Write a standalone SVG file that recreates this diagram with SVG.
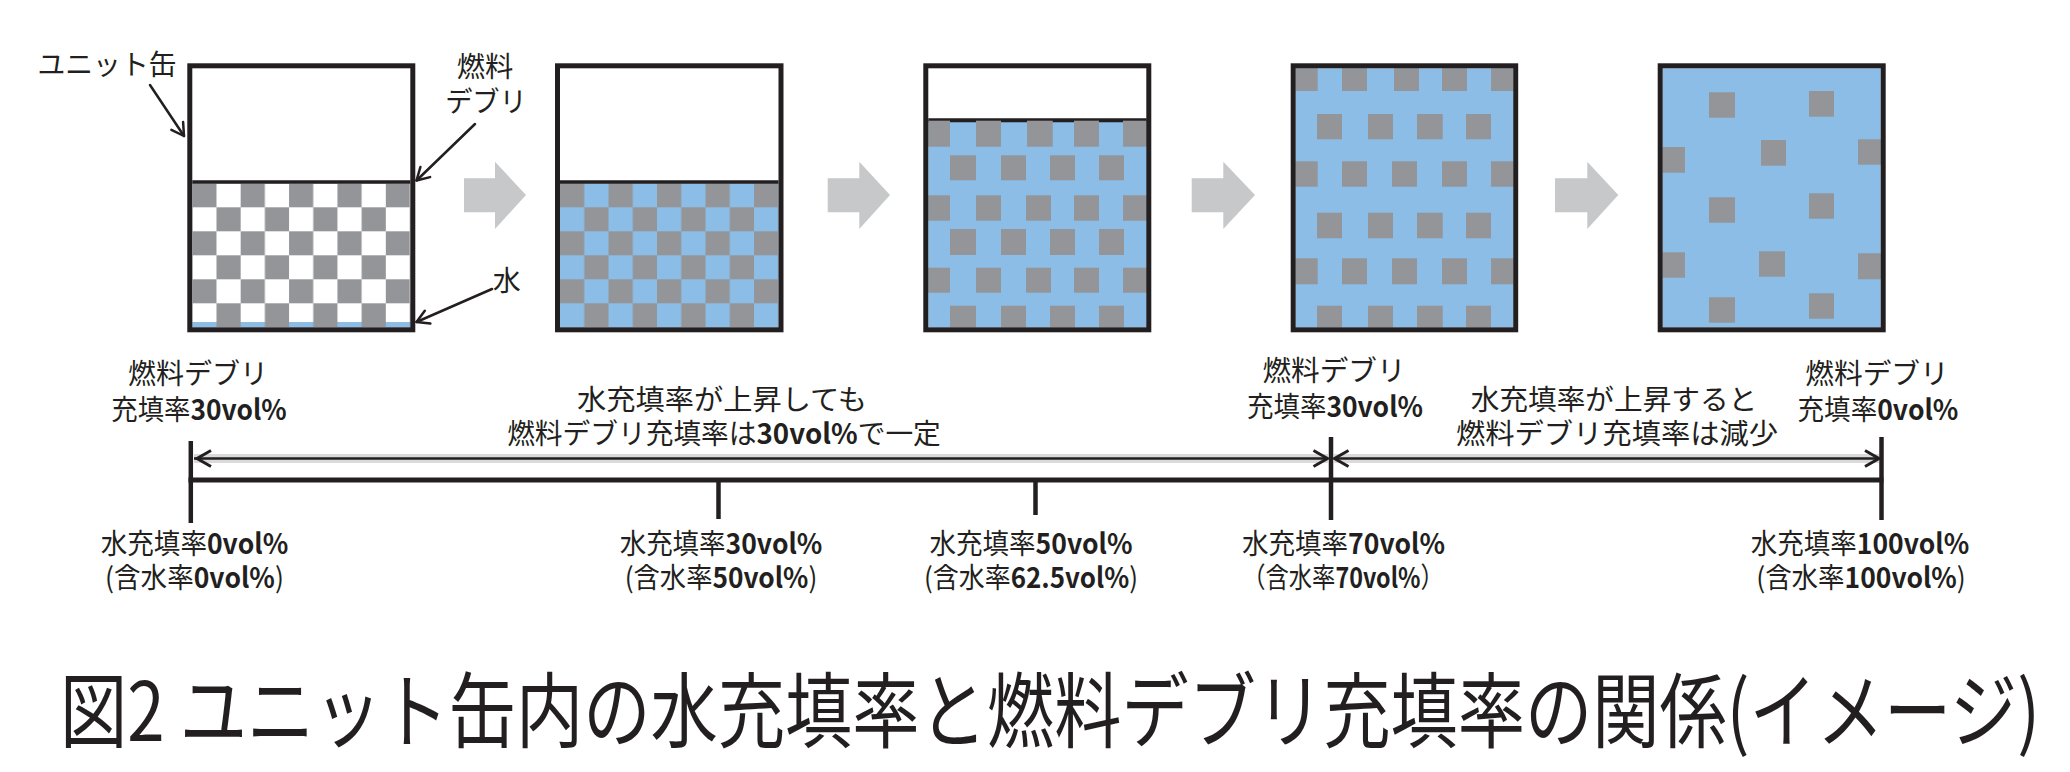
<svg xmlns="http://www.w3.org/2000/svg" width="2070" height="772" viewBox="0 0 2070 772">
<defs>
<style>
.frame{fill:none;stroke:#231f20;stroke-width:5}
.g{fill:#939598}
.b{fill:#8bbde6}
.w{fill:#ffffff}
.lvl{stroke:#231f20;stroke-width:3.5}
.t{font-family:"Noto Sans CJK JP","Noto Sans",sans-serif;font-size:28px;fill:#231f20;text-anchor:middle}
.n{font-weight:700}
.ttl{font-family:"Noto Sans CJK JP","Noto Sans",sans-serif;font-size:82px;fill:#231f20}
.blk{fill:#c7c8ca}
.ld{fill:none;stroke:#231f20;stroke-width:2.5;stroke-linecap:round;stroke-linejoin:round}
.axis{stroke:#231f20;stroke-width:5;fill:none}
.tick{stroke:#231f20;stroke-width:4.5;fill:none}
.halo{stroke:#dadada;stroke-width:9;fill:none}
.dim{stroke:#231f20;stroke-width:2.5;fill:none}
.chev{fill:none;stroke:#231f20;stroke-width:3;stroke-linejoin:miter}
</style>
<pattern id="chk1" patternUnits="userSpaceOnUse" x="192.3" y="183.3" width="48.38" height="48">
<rect class="g" x="0" y="0" width="24.19" height="24"/>
<rect class="g" x="24.19" y="24" width="24.19" height="24"/>
</pattern>
<pattern id="chk2" patternUnits="userSpaceOnUse" x="560" y="183.3" width="48.5" height="48">
<rect class="g" x="0" y="0" width="24.25" height="24"/>
<rect class="g" x="24.25" y="24" width="24.25" height="24"/>
</pattern>
</defs>
<rect x="0" y="0" width="2070" height="772" fill="#ffffff"/>

<!-- Box 1 -->
<g id="box1">
<rect class="w" x="192.3" y="68.3" width="218" height="259"/>
<rect class="b" x="192.3" y="322" width="218" height="5.3"/>
<rect fill="url(#chk1)" x="192.3" y="183.3" width="218" height="144"/>
<line class="lvl" x1="192.3" y1="182" x2="410.3" y2="182"/>
<rect class="frame" x="189.8" y="65.8" width="223" height="264"/>
</g>

<!-- Box 2 -->
<g id="box2">
<rect class="w" x="560" y="68.3" width="218.5" height="259"/>
<rect class="b" x="560" y="183.3" width="218.5" height="144"/>
<rect fill="url(#chk2)" x="560" y="183.3" width="218.5" height="144"/>
<line class="lvl" x1="560" y1="182" x2="778.5" y2="182"/>
<rect class="frame" x="557.5" y="65.8" width="223.5" height="264"/>
</g>

<!-- Box 3 -->
<g id="box3">
<rect class="w" x="928.3" y="68.3" width="218.4" height="52"/>
<rect class="b" x="928.3" y="120" width="218.4" height="207.3"/>
<line x1="928.3" y1="120.3" x2="1146.7" y2="120.3" stroke="#231f20" stroke-width="4"/>
<g class="g">
<rect x="928.3" y="120.7" width="21.7" height="26"/>
<rect x="976" y="120.7" width="25" height="26"/>
<rect x="1027" y="120.7" width="25.7" height="26"/>
<rect x="1074" y="120.7" width="25" height="26"/>
<rect x="1123" y="120.7" width="23.7" height="26"/>
<rect x="950" y="155.3" width="26" height="25"/>
<rect x="1001" y="155.3" width="25" height="25"/>
<rect x="1050" y="155.3" width="25" height="25"/>
<rect x="1099" y="155.3" width="25" height="25"/>
<rect x="928.3" y="195.3" width="21.7" height="25.4"/>
<rect x="976" y="195.3" width="25" height="25.4"/>
<rect x="1026" y="195.3" width="25" height="25.4"/>
<rect x="1074" y="195.3" width="25" height="25.4"/>
<rect x="1123" y="195.3" width="23.7" height="25.4"/>
<rect x="950" y="229" width="26" height="26"/>
<rect x="1001" y="229" width="25" height="26"/>
<rect x="1050" y="229" width="25" height="26"/>
<rect x="1099" y="229" width="25" height="26"/>
<rect x="928.3" y="267.7" width="21.7" height="25"/>
<rect x="976" y="267.7" width="25" height="25"/>
<rect x="1026" y="267.7" width="25" height="25"/>
<rect x="1074" y="267.7" width="25" height="25"/>
<rect x="1123" y="267.7" width="23.7" height="25"/>
<rect x="950" y="305.7" width="26" height="21.6"/>
<rect x="1001" y="305.7" width="25" height="21.6"/>
<rect x="1050" y="305.7" width="25" height="21.6"/>
<rect x="1099" y="305.7" width="25" height="21.6"/>
</g>
<rect class="frame" x="925.8" y="65.8" width="223" height="264"/>
</g>

<!-- Box 4 -->
<g id="box4">
<rect class="b" x="1295.7" y="68.3" width="217.5" height="259"/>
<g class="g">
<rect x="1295.7" y="68.3" width="22" height="22.7"/>
<rect x="1342" y="68.3" width="25" height="22.7"/>
<rect x="1394" y="68.3" width="25" height="22.7"/>
<rect x="1442" y="68.3" width="25" height="22.7"/>
<rect x="1491" y="68.3" width="22.2" height="22.7"/>
<rect x="1317" y="114" width="25" height="25.3"/>
<rect x="1368" y="114" width="25" height="25.3"/>
<rect x="1417" y="114" width="25.7" height="25.3"/>
<rect x="1466" y="114" width="25" height="25.3"/>
<rect x="1295.7" y="161.3" width="22" height="25.4"/>
<rect x="1342" y="161.3" width="25" height="25.4"/>
<rect x="1392" y="161.3" width="25" height="25.4"/>
<rect x="1442" y="161.3" width="25" height="25.4"/>
<rect x="1491" y="161.3" width="22.2" height="25.4"/>
<rect x="1317" y="212.7" width="25" height="25.6"/>
<rect x="1368" y="212.7" width="25" height="25.6"/>
<rect x="1417" y="212.7" width="25.7" height="25.6"/>
<rect x="1466" y="212.7" width="25" height="25.6"/>
<rect x="1295.7" y="258.3" width="22" height="26"/>
<rect x="1342" y="258.3" width="25" height="26"/>
<rect x="1392" y="258.3" width="25" height="26"/>
<rect x="1442" y="258.3" width="25" height="26"/>
<rect x="1491" y="258.3" width="22.2" height="26"/>
<rect x="1317" y="305.7" width="25" height="21.6"/>
<rect x="1368" y="305.7" width="25" height="21.6"/>
<rect x="1417" y="305.7" width="25.7" height="21.6"/>
<rect x="1466" y="305.7" width="25" height="21.6"/>
</g>
<rect class="frame" x="1293.2" y="65.8" width="222.5" height="264"/>
</g>

<!-- Box 5 -->
<g id="box5">
<rect class="b" x="1662.7" y="68.3" width="218" height="259"/>
<g class="g">
<rect x="1709" y="92.3" width="26" height="25.4"/>
<rect x="1809" y="91" width="25" height="25.7"/>
<rect x="1662.7" y="147" width="22.3" height="25.7"/>
<rect x="1761" y="140" width="25" height="25.7"/>
<rect x="1858" y="139.3" width="22.7" height="25.4"/>
<rect x="1709" y="197.3" width="26" height="25.4"/>
<rect x="1809" y="193.3" width="25" height="25.4"/>
<rect x="1662.7" y="252.3" width="22.3" height="25.4"/>
<rect x="1759" y="251.3" width="26" height="25.4"/>
<rect x="1858" y="253.3" width="22.7" height="26"/>
<rect x="1709" y="297.3" width="26" height="25.4"/>
<rect x="1809" y="293.3" width="25" height="25.4"/>
</g>
<rect class="frame" x="1660.2" y="65.8" width="223" height="264"/>
</g>

<!-- Block arrows between boxes -->
<g id="step-arrows">
<polygon class="blk" points="464,178.3 495,178.3 495,161.7 526,195 495,229 495,212.3 464,212.3"/>
<polygon class="blk" points="827.7,178.3 859.3,178.3 859.3,161.7 890,195 859.3,229 859.3,212.3 827.7,212.3"/>
<polygon class="blk" points="1191.7,178.3 1223.3,178.3 1223.3,161.7 1255,195 1223.3,229 1223.3,212.3 1191.7,212.3"/>
<polygon class="blk" points="1555,178.3 1587.3,178.3 1587.3,161.7 1618.3,195 1587.3,229 1587.3,212.3 1555,212.3"/>
</g>

<!-- Connectors -->
<g id="connectors">
<path class="ld" d="M150,85 L184,136"/>
<path class="ld" d="M183.1,122 L184,136 L171.4,129.8"/>
<path class="ld" d="M475,124 L416.5,180.5"/>
<path class="ld" d="M430.1,177.1 L416.5,180.5 L420.4,167"/>
<path class="ld" d="M492,289 L416.5,322"/>
<path class="ld" d="M430.4,323.6 L416.5,322 L424.8,310.7"/>

<line class="halo" x1="194" y1="458.5" x2="1328" y2="458.5"/>
<line class="halo" x1="1334" y1="458.5" x2="1879" y2="458.5"/>
<line class="dim" x1="194" y1="458.5" x2="1328" y2="458.5"/>
<line class="dim" x1="1334" y1="458.5" x2="1879" y2="458.5"/>
<path class="chev" d="M211,450.5 L197,458.5 L211,466.5"/>
<path class="chev" d="M1313.5,450.5 L1327.5,458.5 L1313.5,466.5"/>
<path class="chev" d="M1348.5,450.5 L1334.5,458.5 L1348.5,466.5"/>
<path class="chev" d="M1865,450.5 L1879,458.5 L1865,466.5"/>

<line class="axis" x1="188.5" y1="480" x2="1883.5" y2="480"/>
<line class="tick" x1="190.8" y1="441" x2="190.8" y2="523"/>
<line class="tick" x1="718.5" y1="480" x2="718.5" y2="519"/>
<line class="tick" x1="1035.5" y1="480" x2="1035.5" y2="515"/>
<line class="tick" x1="1331" y1="437" x2="1331" y2="520"/>
<line class="tick" x1="1881.5" y1="437" x2="1881.5" y2="520"/>
</g>

<!-- Labels -->
<g id="label-unit">
<text class="t" x="107" y="75" textLength="139" lengthAdjust="spacingAndGlyphs">ユニット缶</text>
</g>
<g id="label-debris">
<text class="t" x="485" y="77" textLength="56.6" lengthAdjust="spacingAndGlyphs">燃料</text>
<text class="t" x="486" y="111.5" textLength="81.7" lengthAdjust="spacingAndGlyphs">デブリ</text>
</g>
<g id="label-water">
<text class="t" x="506.7" y="290.5">水</text>
</g>

<g id="label-top-0">
<text class="t" x="198" y="383.5" textLength="140" lengthAdjust="spacingAndGlyphs">燃料デブリ</text>
<text class="t" x="199" y="419.5" textLength="175.4" lengthAdjust="spacingAndGlyphs">充填率<tspan class="n">30vol%</tspan></text>
</g>
<g id="label-top-mid1">
<text class="t" x="722" y="410" textLength="290" lengthAdjust="spacingAndGlyphs">水充填率が上昇しても</text>
<text class="t" x="724" y="444" textLength="433.7" lengthAdjust="spacingAndGlyphs">燃料デブリ充填率は<tspan class="n">30vol%</tspan>で一定</text>
</g>
<g id="label-top-70">
<text class="t" x="1334" y="381" textLength="143" lengthAdjust="spacingAndGlyphs">燃料デブリ</text>
<text class="t" x="1335" y="417" textLength="176" lengthAdjust="spacingAndGlyphs">充填率<tspan class="n">30vol%</tspan></text>
</g>
<g id="label-top-mid2">
<text class="t" x="1614" y="410" textLength="286.6" lengthAdjust="spacingAndGlyphs">水充填率が上昇すると</text>
<text class="t" x="1617" y="444" textLength="322.2" lengthAdjust="spacingAndGlyphs">燃料デブリ充填率は減少</text>
</g>
<g id="label-top-100">
<text class="t" x="1877" y="383.5" textLength="143.5" lengthAdjust="spacingAndGlyphs">燃料デブリ</text>
<text class="t" x="1878" y="420" textLength="160.8" lengthAdjust="spacingAndGlyphs">充填率<tspan class="n">0vol%</tspan></text>
</g>

<g id="label-bot-0">
<text class="t" x="194.5" y="554" textLength="187.5" lengthAdjust="spacingAndGlyphs">水充填率<tspan class="n">0vol%</tspan></text>
<text class="t" x="194.5" y="588" textLength="178.8" lengthAdjust="spacingAndGlyphs">(含水率<tspan class="n">0vol%</tspan>)</text>
</g>
<g id="label-bot-30">
<text class="t" x="721" y="554" textLength="202.7" lengthAdjust="spacingAndGlyphs">水充填率<tspan class="n">30vol%</tspan></text>
<text class="t" x="721" y="588" textLength="192.6" lengthAdjust="spacingAndGlyphs">(含水率<tspan class="n">50vol%</tspan>)</text>
</g>
<g id="label-bot-50">
<text class="t" x="1031" y="554" textLength="203" lengthAdjust="spacingAndGlyphs">水充填率<tspan class="n">50vol%</tspan></text>
<text class="t" x="1031" y="588" textLength="214" lengthAdjust="spacingAndGlyphs">(含水率<tspan class="n">62.5vol%</tspan>)</text>
</g>
<g id="label-bot-70">
<text class="t" x="1343.5" y="554" textLength="203" lengthAdjust="spacingAndGlyphs">水充填率<tspan class="n">70vol%</tspan></text>
<text class="t" x="1343" y="588" textLength="201.6" lengthAdjust="spacingAndGlyphs">（含水率<tspan class="n">70vol%</tspan>）</text>
</g>
<g id="label-bot-100">
<text class="t" x="1860" y="554" textLength="218.4" lengthAdjust="spacingAndGlyphs">水充填率<tspan class="n">100vol%</tspan></text>
<text class="t" x="1861" y="588" textLength="209.6" lengthAdjust="spacingAndGlyphs">(含水率<tspan class="n">100vol%</tspan>)</text>
</g>

<g id="title">
<text class="ttl" x="60" y="741" textLength="1980" lengthAdjust="spacingAndGlyphs">図2 ユニット缶内の水充填率と燃料デブリ充填率の関係(イメージ)</text>
</g>
</svg>
